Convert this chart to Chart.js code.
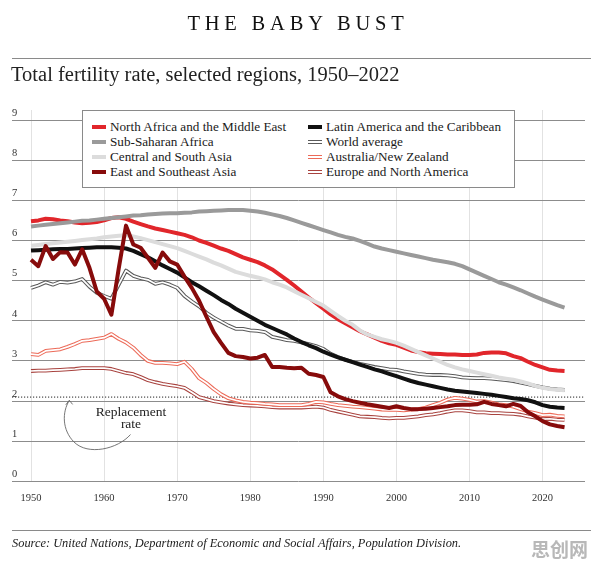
<!DOCTYPE html>
<html><head><meta charset="utf-8">
<script src="https://cdn.jsdelivr.net/npm/chart.js@4/dist/chart.umd.min.js"></script>
<style>
html,body{margin:0;padding:0;background:#fff;}
body{width:596px;height:569px;position:relative;overflow:hidden;font-family:"Liberation Serif","Times New Roman",serif;color:#1a1a1a;}
#cv{position:absolute;left:0;top:0;}
.abs{position:absolute;white-space:nowrap;}
#title{top:12px;left:0;width:596px;text-align:center;font-size:20.5px;letter-spacing:4.8px;color:#111;}
.rule{position:absolute;left:12px;width:579px;height:0;border-top:1px solid #8a8a8a;}
#sub{top:63px;left:11px;font-size:20.5px;color:#222;}
#legend{position:absolute;left:82px;top:110px;width:431px;height:76px;border:1px solid #8a8a8a;background:#fff;}
.li{position:absolute;font-size:13.2px;line-height:15px;color:#1a1a1a;}
.sw{position:absolute;width:14px;}
.thick{height:4px;}
.dbl{height:2px;border-top:1px solid;border-bottom:1px solid;}
#repl{left:86px;top:406px;width:90px;text-align:center;font-size:13.5px;line-height:12px;color:#222;white-space:normal;}
#src{left:12px;top:536px;font-size:12.4px;font-style:italic;color:#222;}
#wm{left:531px;top:535px;font-family:"Noto Sans CJK SC",sans-serif;font-weight:bold;font-size:19px;color:#b8b8b8;}
</style></head>
<body>
<canvas id="cv" width="596" height="569"></canvas>
<div id="title" class="abs">THE BABY BUST</div>
<div class="rule" style="top:58px"></div>
<div id="sub" class="abs">Total fertility rate, selected regions, 1950–2022</div>
<div id="legend"></div>
<div id="repl" class="abs">Replacement rate</div>
<svg class="abs" style="left:0;top:0" width="596" height="569" viewBox="0 0 596 569">
  <path d="M130.5,434.5 C118,449 88,456 74,442 C62,430 62,412 69.3,400.5" fill="none" stroke="#666" stroke-width="0.9"/>
  <path d="M65.8,404.8 L69.3,400.3 L72.6,404.4" fill="none" stroke="#666" stroke-width="0.9"/>
</svg>
<div class="rule" style="top:530px"></div>
<div id="src" class="abs">Source: United Nations, Department of Economic and Social Affairs, Population Division.</div>
<div id="wm" class="abs">思创网</div>
<script>
const YEARS = [1950,1951,1952,1953,1954,1955,1956,1957,1958,1959,1960,1961,1962,1963,1964,1965,1966,1967,1968,1969,
1970,1971,1972,1973,1974,1975,1976,1977,1978,1979,1980,1981,1982,1983,1984,1985,1986,1987,1988,1989,
1990,1991,1992,1993,1994,1995,1996,1997,1998,1999,2000,2001,2002,2003,2004,2005,2006,2007,2008,2009,
2010,2011,2012,2013,2014,2015,2016,2017,2018,2019,2020,2021,2022,2023];

const NORTH_AFRICA_ME = [6.48,6.50,6.54,6.53,6.50,6.48,6.45,6.43,6.44,6.46,6.50,6.56,6.58,6.54,6.47,6.41,6.35,6.30,6.26,6.22,
6.18,6.14,6.08,6.00,5.94,5.87,5.80,5.74,5.66,5.58,5.52,5.46,5.38,5.28,5.15,5.02,4.88,4.73,4.58,4.44,
4.30,4.16,4.04,3.94,3.84,3.74,3.66,3.58,3.50,3.44,3.40,3.33,3.26,3.22,3.19,3.18,3.17,3.16,3.16,3.15,
3.15,3.16,3.20,3.21,3.21,3.19,3.12,3.07,2.98,2.90,2.84,2.78,2.76,2.75];

const SUB_SAHARAN = [6.35,6.37,6.39,6.41,6.43,6.45,6.47,6.49,6.50,6.52,6.54,6.56,6.58,6.60,6.62,6.63,6.65,6.66,6.67,6.68,
6.68,6.69,6.70,6.72,6.73,6.74,6.75,6.76,6.76,6.76,6.74,6.72,6.69,6.65,6.61,6.56,6.50,6.44,6.38,6.32,
6.26,6.20,6.14,6.09,6.05,5.99,5.92,5.85,5.80,5.76,5.72,5.68,5.64,5.60,5.56,5.52,5.49,5.46,5.42,5.36,
5.28,5.20,5.12,5.04,4.96,4.90,4.83,4.76,4.68,4.60,4.53,4.46,4.39,4.33];

const CENTRAL_SOUTH_ASIA = [5.87,5.89,5.91,5.93,5.95,5.97,5.99,6.01,6.03,6.05,6.08,6.10,6.12,6.13,6.10,6.06,6.01,5.96,5.91,5.86,
5.81,5.74,5.67,5.60,5.53,5.45,5.38,5.30,5.22,5.17,5.12,5.08,5.03,4.96,4.90,4.83,4.74,4.65,4.56,4.47,
4.38,4.25,4.12,4.00,3.90,3.76,3.66,3.60,3.54,3.50,3.45,3.38,3.30,3.22,3.14,3.06,2.98,2.90,2.84,2.79,
2.75,2.71,2.67,2.63,2.59,2.56,2.53,2.49,2.44,2.38,2.33,2.30,2.28,2.27];

const EAST_SE_ASIA = [5.52,5.36,5.86,5.54,5.71,5.70,5.40,5.78,5.32,4.73,4.55,4.15,5.30,6.37,5.90,5.82,5.57,5.32,5.70,5.48,
5.40,5.10,4.82,4.50,4.10,3.72,3.45,3.20,3.12,3.10,3.06,3.08,3.15,2.85,2.85,2.83,2.82,2.83,2.68,2.65,
2.60,2.22,2.12,2.05,2.00,1.96,1.92,1.89,1.86,1.83,1.87,1.83,1.80,1.80,1.81,1.83,1.85,1.87,1.90,1.91,
1.91,1.92,1.98,1.93,1.90,1.87,1.93,1.88,1.72,1.62,1.50,1.42,1.38,1.35];

const LATIN_AMERICA = [5.75,5.76,5.77,5.78,5.79,5.79,5.80,5.81,5.82,5.83,5.83,5.83,5.82,5.80,5.74,5.66,5.58,5.48,5.38,5.29,
5.20,5.08,4.96,4.86,4.75,4.64,4.52,4.42,4.30,4.20,4.10,4.00,3.90,3.82,3.74,3.66,3.56,3.47,3.39,3.32,
3.23,3.16,3.09,3.03,2.97,2.91,2.85,2.79,2.74,2.68,2.62,2.56,2.50,2.45,2.41,2.37,2.33,2.29,2.26,2.24,
2.22,2.20,2.18,2.16,2.13,2.10,2.07,2.05,2.02,1.97,1.90,1.86,1.84,1.83];

const WORLD = [4.82,4.88,4.96,4.90,4.97,4.95,4.98,5.04,4.85,4.70,4.62,4.55,4.90,5.25,5.12,5.06,5.02,4.92,4.96,4.90,
4.82,4.62,4.48,4.36,4.20,4.08,3.98,3.88,3.80,3.80,3.76,3.75,3.72,3.60,3.56,3.52,3.50,3.46,3.42,3.37,
3.30,3.18,3.10,3.03,2.98,2.93,2.89,2.85,2.82,2.79,2.78,2.74,2.71,2.68,2.66,2.65,2.65,2.64,2.62,2.59,
2.58,2.57,2.57,2.56,2.54,2.52,2.50,2.46,2.42,2.38,2.34,2.31,2.29,2.28];

const AUS_NZ = [3.17,3.15,3.25,3.27,3.29,3.35,3.42,3.50,3.52,3.55,3.58,3.67,3.55,3.46,3.33,3.15,3.00,2.95,2.95,2.94,
2.92,2.98,2.80,2.57,2.45,2.30,2.17,2.07,2.02,1.98,1.96,1.95,1.93,1.92,1.90,1.90,1.90,1.90,1.93,1.98,
1.97,1.93,1.90,1.88,1.86,1.85,1.83,1.81,1.79,1.78,1.78,1.77,1.79,1.80,1.84,1.90,1.96,2.04,2.08,2.06,
2.03,1.99,2.00,1.96,1.92,1.90,1.86,1.80,1.74,1.70,1.65,1.66,1.63,1.62];

const EUROPE_NA = [2.75,2.76,2.76,2.77,2.78,2.79,2.80,2.82,2.82,2.82,2.82,2.80,2.75,2.70,2.67,2.60,2.52,2.47,2.43,2.40,
2.37,2.33,2.22,2.10,2.05,2.00,1.97,1.94,1.92,1.90,1.89,1.88,1.87,1.85,1.84,1.84,1.84,1.84,1.85,1.86,
1.84,1.78,1.74,1.70,1.66,1.62,1.61,1.60,1.58,1.57,1.58,1.58,1.60,1.62,1.65,1.67,1.70,1.74,1.77,1.77,
1.75,1.72,1.72,1.70,1.70,1.69,1.68,1.66,1.62,1.59,1.55,1.56,1.54,1.53];

const REPLACEMENT_RATE = 2.1;
const X_TICKS = [1950,1960,1970,1980,1990,2000,2010,2020];
const Y_TICKS = [0,1,2,3,4,5,6,7,8,9];
const X_MIN = 1947.4, X_MAX = 2025.8, Y_MIN = 0, Y_MAX = 9.25;

const SERIES = [
  {name:'North Africa and the Middle East', values:NORTH_AFRICA_ME, color:'#e1262b', kind:'thick', col:0, row:0},
  {name:'Sub-Saharan Africa', values:SUB_SAHARAN, color:'#9a9a9a', kind:'thick', col:0, row:1},
  {name:'Central and South Asia', values:CENTRAL_SOUTH_ASIA, color:'#dcdcdc', kind:'thick', col:0, row:2},
  {name:'East and Southeast Asia', values:EAST_SE_ASIA, color:'#870b0b', kind:'thick', col:0, row:3},
  {name:'Latin America and the Caribbean', values:LATIN_AMERICA, color:'#111111', kind:'thick', col:1, row:0},
  {name:'World average', values:WORLD, color:'#5a5a5a', kind:'dbl', col:1, row:1},
  {name:'Australia/New Zealand', values:AUS_NZ, color:'#ec6a58', kind:'dbl', col:1, row:2},
  {name:'Europe and North America', values:EUROPE_NA, color:'#a8433f', kind:'dbl', col:1, row:3}
];

// legend (HTML)
const lg = document.getElementById('legend');
SERIES.forEach(s => {
  const top = 8 + s.row*15;
  const left = s.col ? 225 : 9;
  const sw = document.createElement('div');
  sw.className = 'sw ' + s.kind;
  if (s.kind === 'thick') { sw.style.background = s.color; sw.style.top = (top+6)+'px'; }
  else { sw.style.borderColor = s.color; sw.style.top = (top+5.5)+'px'; }
  sw.style.left = left + 'px';
  lg.appendChild(sw);
  const t = document.createElement('div');
  t.className = 'li';
  t.textContent = s.name;
  t.style.left = (left+18)+'px';
  t.style.top = top+'px';
  lg.appendChild(t);
});

const pts = vals => vals.map((v,i)=>({x:YEARS[i], y:v}));
const byName = n => SERIES.find(s=>s.name===n);
const ds = [];
function thick(n){ const s=byName(n); ds.push({data:pts(s.values), borderColor:s.color, borderWidth:4}); }
function dbl(n){ const s=byName(n);
  ds.push({data:pts(s.values), borderColor:'#ffffff', borderWidth:1.7});
  ds.push({data:pts(s.values), borderColor:s.color, borderWidth:3.8});
}
thick('East and Southeast Asia');
thick('Latin America and the Caribbean');
thick('Central and South Asia');
thick('Sub-Saharan Africa');
thick('North Africa and the Middle East');
dbl('World average');
dbl('Australia/New Zealand');
dbl('Europe and North America');
ds.push({data:[{x:X_MIN,y:REPLACEMENT_RATE},{x:X_MAX,y:REPLACEMENT_RATE}], borderColor:'#222', borderWidth:1, borderDash:[1.2,1.8]});

new Chart(document.getElementById('cv'), {
  type:'line',
  data:{datasets:ds},
  options:{
    responsive:false, animation:false, devicePixelRatio:1,
    layout:{padding:{left:12, right:11, top:110, bottom:53}},
    elements:{point:{radius:0}, line:{tension:0, borderJoinStyle:'round', borderCapStyle:'butt'}},
    plugins:{legend:{display:false}, tooltip:{enabled:false}},
    scales:{
      x:{type:'linear', min:X_MIN, max:X_MAX,
        afterBuildTicks:sc=>{sc.ticks = X_TICKS.map(v=>({value:v}));},
        grid:{color:'#e2e2e2', lineWidth:1, drawTicks:false},
        border:{display:false},
        ticks:{padding:11, color:'#333', font:{family:'"Liberation Serif", serif', size:10.5}, callback:v=>String(v), maxRotation:0, autoSkip:false}
      },
      y:{type:'linear', min:Y_MIN, max:Y_MAX,
        afterBuildTicks:sc=>{sc.ticks = Y_TICKS.map(v=>({value:v}));},
        grid:{color:'#8c8c8c', lineWidth:1, drawTicks:false},
        border:{display:false},
        ticks:{mirror:true, padding:0, labelOffset:-7, color:'#333', font:{family:'"Liberation Serif", serif', size:10.5}, callback:v=>String(v)}
      }
    }
  }
});
</script>
</body></html>
